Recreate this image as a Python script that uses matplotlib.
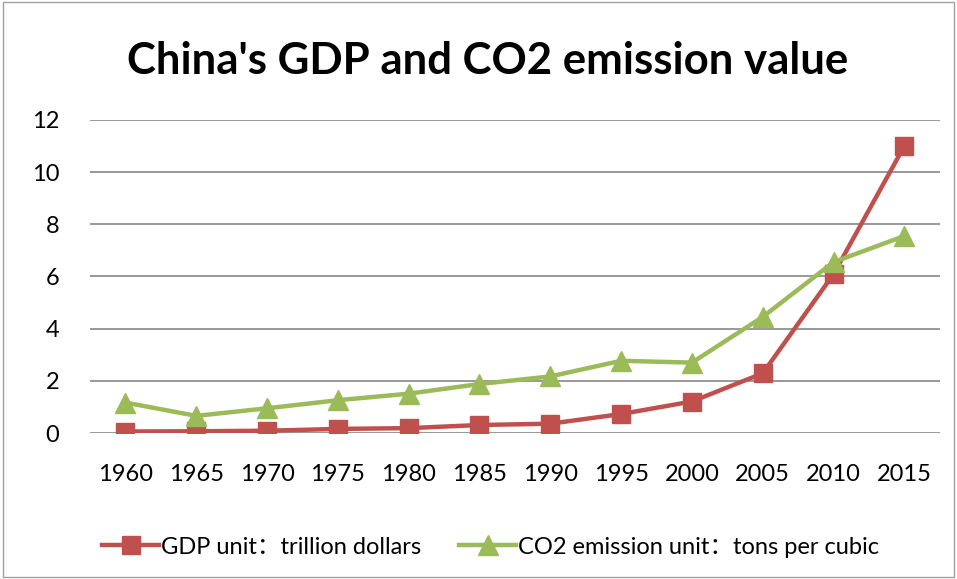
import numpy as np
import matplotlib.pyplot as plt
from matplotlib.patches import Rectangle

years = ['1960', '1965', '1970', '1975', '1980', '1985',
         '1990', '1995', '2000', '2005', '2010', '2015']
gdp = [0.06, 0.07, 0.09, 0.16, 0.19, 0.31, 0.36, 0.73, 1.21, 2.29, 6.09, 11.0]
co2 = [1.17, 0.66, 0.95, 1.26, 1.51, 1.88, 2.17, 2.77, 2.70, 4.45, 6.55, 7.55]

fam = ['Lato', 'Noto Sans CJK SC', 'DejaVu Sans']
plt.rcParams['font.family'] = fam

fig = plt.figure(figsize=(9.57, 5.79), dpi=100)
ax = fig.add_axes([0.094, 0.252, 0.888, 0.541])

x = np.arange(len(years))
ax.plot(x, gdp, color='#C0504D', lw=3.2, marker='s', ms=13,
        label='GDP unit：trillion dollars')
ax.plot(x, co2, color='#9BBB59', lw=3.2, marker='^', ms=14,
        label='CO2 emission unit：tons per cubic')

ax.set_xlim(-0.5, len(years) - 0.5)
ax.set_ylim(0, 12)
ax.set_yticks(range(0, 13, 2))
ax.set_xticks(x)
ax.set_xticklabels(years)
ax.yaxis.grid(True, color='#868686', lw=1.2)
ax.set_axisbelow(True)
for s in ax.spines.values():
    s.set_visible(False)
ax.tick_params(length=0, labelsize=17, colors='black')
ax.tick_params(axis='x', pad=22)
ax.tick_params(axis='y', pad=22)

fig.text(0.51, 0.895, "China's GDP and CO2 emission value", ha='center', va='center',
         fontsize=31.5, fontweight='bold')
fig.legend(loc='center', bbox_to_anchor=(0.513, 0.055), ncol=2, frameon=False,
           fontsize=17, handlelength=2.4, handletextpad=0.1, columnspacing=1.6)

fig.patches.append(Rectangle((0.003, 0.003), 0.994, 0.994, transform=fig.transFigure,
                             fill=False, ec='#A0A0A0', lw=1))

fig.savefig('out.png', dpi=100)
